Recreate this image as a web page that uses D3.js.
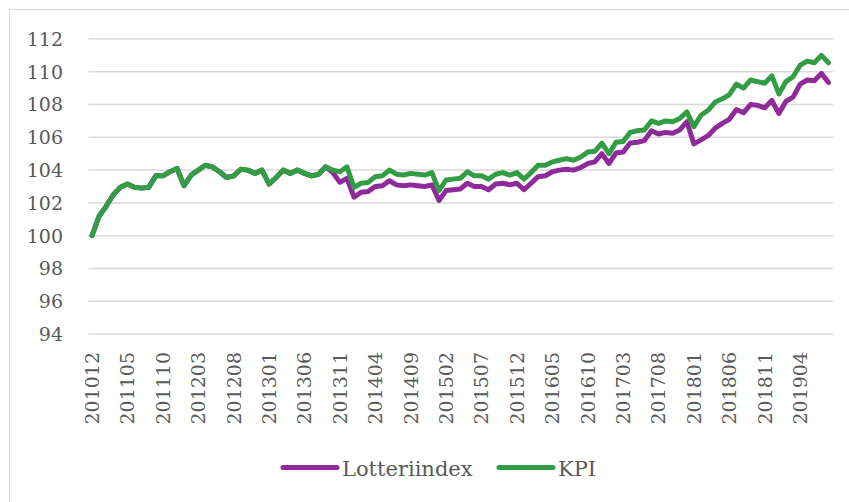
<!DOCTYPE html>
<html>
  <head>
    <meta charset="utf-8" />
    <style>
      body,
      html {
        margin: 0;
        padding: 0;
        background: #fff;
        overflow: hidden;
      }
    </style>
    <script src="https://d3js.org/d3.v7.min.js"></script>
    <title>Lotteriindex och KPI</title>
  </head>

  <body>
    <svg id="chart" width="849" height="502"></svg>

    <script>
      // months 201012 .. 201908
      var months = [
        "201012",
        "201101", "201102", "201103", "201104", "201105", "201106", "201107", "201108", "201109", "201110", "201111", "201112",
        "201201", "201202", "201203", "201204", "201205", "201206", "201207", "201208", "201209", "201210", "201211", "201212",
        "201301", "201302", "201303", "201304", "201305", "201306", "201307", "201308", "201309", "201310", "201311", "201312",
        "201401", "201402", "201403", "201404", "201405", "201406", "201407", "201408", "201409", "201410", "201411", "201412",
        "201501", "201502", "201503", "201504", "201505", "201506", "201507", "201508", "201509", "201510", "201511", "201512",
        "201601", "201602", "201603", "201604", "201605", "201606", "201607", "201608", "201609", "201610", "201611", "201612",
        "201701", "201702", "201703", "201704", "201705", "201706", "201707", "201708", "201709", "201710", "201711", "201712",
        "201801", "201802", "201803", "201804", "201805", "201806", "201807", "201808", "201809", "201810", "201811", "201812",
        "201901", "201902", "201903", "201904", "201905", "201906", "201907", "201908"
      ];

      var kpi = [
        100.0,
        101.2, 101.8, 102.5, 102.95, 103.15, 102.95, 102.9, 102.95, 103.65, 103.65, 103.9, 104.1,
        103.05, 103.7, 104.0, 104.3, 104.2, 103.9, 103.55, 103.65, 104.05, 104.0, 103.8, 104.0,
        103.15, 103.55, 104.0, 103.8, 104.0, 103.8, 103.65, 103.75, 104.2, 104.0, 103.9, 104.2,
        102.95, 103.2, 103.25, 103.6, 103.65, 104.0, 103.75, 103.7, 103.8, 103.75, 103.7, 103.85,
        102.75, 103.4, 103.45, 103.5, 103.9, 103.65, 103.65, 103.45, 103.75, 103.85, 103.7, 103.85,
        103.45, 103.85, 104.3, 104.3, 104.5, 104.6, 104.7, 104.6, 104.8, 105.1, 105.15, 105.65,
        105.0, 105.7, 105.75, 106.3, 106.4, 106.45, 107.0, 106.85, 107.0, 106.95, 107.15, 107.55,
        106.65, 107.35, 107.65, 108.15, 108.35, 108.6, 109.25, 109.0, 109.5, 109.4, 109.3, 109.75,
        108.65, 109.4, 109.7, 110.4, 110.65, 110.55, 111.0, 110.55
      ];

      var lotteri = [
        100.0,
        101.2, 101.8, 102.5, 102.95, 103.15, 102.95, 102.9, 102.95, 103.65, 103.65, 103.9, 104.1,
        103.05, 103.7, 104.0, 104.3, 104.2, 103.9, 103.55, 103.65, 104.05, 104.0, 103.8, 104.0,
        103.15, 103.55, 104.0, 103.8, 104.0, 103.8, 103.65, 103.75, 104.2, 103.85, 103.25, 103.5,
        102.35, 102.65, 102.7, 103.0, 103.05, 103.35, 103.1, 103.05, 103.1, 103.05, 103.0, 103.1,
        102.15, 102.75, 102.8, 102.85, 103.2, 103.0, 103.0, 102.8, 103.15, 103.2, 103.1, 103.2,
        102.8, 103.2, 103.6, 103.65, 103.9, 104.0, 104.05, 104.0, 104.15, 104.4, 104.5, 105.0,
        104.4, 105.05, 105.1, 105.65, 105.7, 105.8, 106.4, 106.2, 106.3, 106.25, 106.45, 106.95,
        105.6, 105.85, 106.1, 106.55, 106.85, 107.1, 107.7, 107.5, 108.0, 107.95, 107.8, 108.25,
        107.45, 108.2, 108.45, 109.25, 109.5, 109.45, 109.9, 109.35
      ];

      var yTicks = [94, 96, 98, 100, 102, 104, 106, 108, 110, 112];
      var xTickLabels = [
        "201012", "201105", "201110", "201203", "201208", "201301", "201306",
        "201311", "201404", "201409", "201502", "201507", "201512", "201605",
        "201610", "201703", "201708", "201801", "201806", "201811", "201904"
      ];

      var seriesNames = ["Lotteriindex", "KPI"];
      var colors = ["#8f2a9b", "#339d45"];
      var textColor = "#595959";
      var serif = "DejaVu Serif";

      var svg = d3.select("#chart");

      // chart area border
      svg
        .append("rect")
        .attr("x", 9.5)
        .attr("y", 9.5)
        .attr("width", 860)
        .attr("height", 520)
        .attr("fill", "none")
        .attr("stroke", "#d9d9d9")
        .attr("stroke-width", 1);

      var left = 88.5;
      var right = 832;

      var x = d3.scalePoint().domain(months).range([left, right]).padding(0.5);
      var y = d3.scaleLinear().domain([94, 112]).range([334, 39]);

      // gridlines
      svg
        .append("g")
        .selectAll("line")
        .data(yTicks)
        .enter()
        .append("line")
        .attr("x1", left)
        .attr("x2", right + 1)
        .attr("y1", (d) => y(d))
        .attr("y2", (d) => y(d))
        .attr("stroke", "#d9d9d9")
        .attr("stroke-width", 1.5);

      // y labels
      svg
        .append("g")
        .selectAll("text")
        .data(yTicks)
        .enter()
        .append("text")
        .attr("x", 63)
        .attr("y", (d) => y(d))
        .attr("dy", "0.36em")
        .attr("text-anchor", "end")
        .attr("fill", textColor)
        .attr("font-family", serif)
        .attr("font-size", "19px")
        .text((d) => d);

      // x labels, rotated
      svg
        .append("g")
        .selectAll("text")
        .data(xTickLabels)
        .enter()
        .append("text")
        .attr("transform", (d) => "translate(" + x(d) + ",352) rotate(-90)")
        .attr("dy", "0.36em")
        .attr("text-anchor", "end")
        .attr("fill", textColor)
        .attr("font-family", serif)
        .attr("font-size", "19px")
        .text((d) => d);

      var line = d3
        .line()
        .x((d, i) => x(months[i]))
        .y((d) => y(d));

      // purple first, green drawn on top
      [lotteri, kpi].forEach(function (vals, k) {
        svg
          .append("path")
          .datum(vals)
          .attr("d", line)
          .attr("fill", "none")
          .attr("stroke", colors[k])
          .attr("stroke-width", 5)
          .attr("stroke-linejoin", "round")
          .attr("stroke-linecap", "round");
      });

      // legend
      var legendX = [283, 499];
      var legend = svg
        .append("g")
        .selectAll("g")
        .data(seriesNames)
        .enter()
        .append("g")
        .attr("transform", (d, i) => "translate(" + legendX[i] + ",467.5)");

      legend
        .append("line")
        .attr("x1", 0)
        .attr("x2", 54)
        .attr("stroke", (d, i) => colors[i])
        .attr("stroke-width", 5)
        .attr("stroke-linecap", "round");

      legend
        .append("text")
        .attr("x", 59)
        .attr("y", 8)
        .attr("fill", textColor)
        .attr("font-family", serif)
        .attr("font-size", "21px")
        .text((d) => d);
    </script>
  </body>
</html>
